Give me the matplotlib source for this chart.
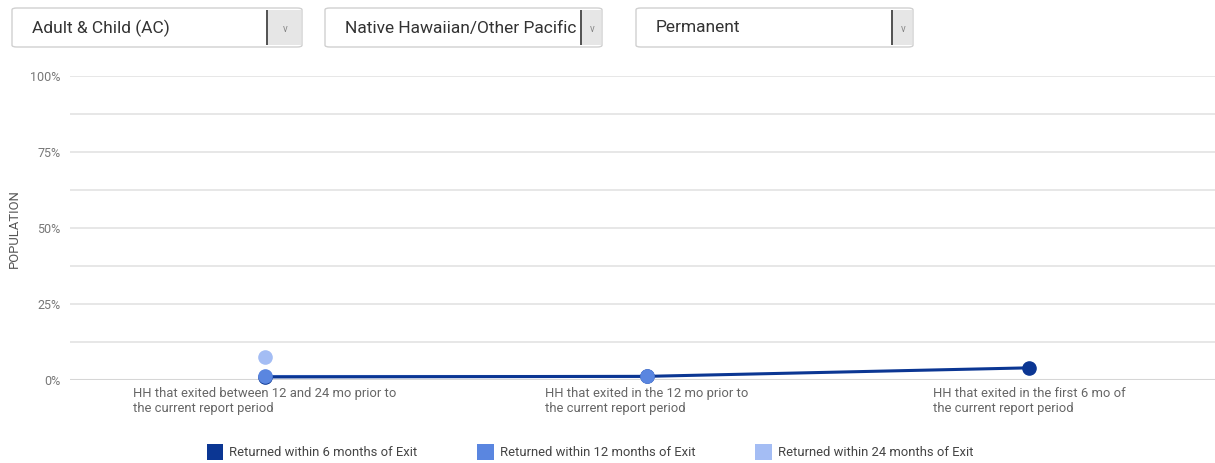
import numpy as np
import matplotlib.pyplot as plt
from matplotlib.patches import FancyBboxPatch, Rectangle, Patch

# data (percent of population)
categories = ["HH that exited between 12 and 24 mo prior to\nthe current report period",
              "HH that exited in the 12 mo prior to\nthe current report period",
              "HH that exited in the first 6 mo of\nthe current report period"]
returned_6mo = [1.0, 1.2, 4.0]
returned_12mo = [1.3, 1.3, np.nan]
returned_24mo = [7.7, np.nan, np.nan]
series_names = ["Returned within 6 months of Exit",
                "Returned within 12 months of Exit",
                "Returned within 24 months of Exit"]
colors = ["#0b3693", "#5a86e0", "#a4bdf4"]
dropdowns = ["Adult & Child (AC)", "Native Hawaiian/Other Pacific", "Permanent"]

plt.rcParams['font.family'] = ['Roboto', 'DejaVu Sans']

W, H = 1215, 463
fig = plt.figure(figsize=(W / 100, H / 100), dpi=100)

# chart area
ax = fig.add_axes([70 / W, (H - 380) / H, (W - 70) / W, (380 - 76) / H])
x = np.arange(len(categories))
all_series = [returned_6mo, returned_12mo, returned_24mo]
# lines: dark one on top, markers: lighter ones on top
for i, (vals, col) in enumerate(zip(all_series, colors)):
    ax.plot(x, vals, color=col, lw=2.2, clip_on=False, zorder=5 - i)
    ax.plot(x, vals, color=col, lw=0, marker='o', markersize=9.5,
            clip_on=False, zorder=6 + i)

ax.set_xlim(-0.51, 2.487)
ax.set_ylim(0, 100)
ax.set_yticks([0, 25, 50, 75, 100])
ax.set_yticks([12.5, 37.5, 62.5, 87.5], minor=True)
ax.set_yticklabels(["0%", "25%", "50%", "75%", "100%"])
ax.grid(axis='y', which='both', color='#e3e3e3', lw=1.2)
ax.set_axisbelow(True)
ax.tick_params(axis='y', which='both', length=0, labelsize=9, labelcolor='#777777', pad=7)
ax.set_xticks(x)
ax.set_xticklabels(categories, fontsize=9.4, color='#666666', multialignment='left',
                   linespacing=1.25)
ax.tick_params(axis='x', length=0, pad=5)
for s in ax.spines.values():
    s.set_visible(False)
ax.axhline(0, color='#d6d6d6', lw=1.5, zorder=1)
fig.text(14 / W, 1 - 229 / H, "POPULATION", rotation=90, fontsize=9.4,
         color='#555555', ha='center', va='center')

# legend
handles = [Patch(facecolor=c, edgecolor='none') for c in colors]
fig.legend(handles, series_names, loc='center', ncol=3, frameon=False,
           bbox_to_anchor=(590 / W, 1 - 452 / H), fontsize=9.4,
           handlelength=1.25, handleheight=1.5, handletextpad=0.45,
           columnspacing=4.6, labelcolor='#444444')

# dropdown boxes at the top
boxes = [(12, 302), (325, 602), (636, 913)]
for (x0, x1), label in zip(boxes, dropdowns):
    y0, y1 = 8, 47
    box = FancyBboxPatch((x0 / W, 1 - y1 / H), (x1 - x0) / W, (y1 - y0) / H,
                         boxstyle="round,pad=0,rounding_size=0.004",
                         transform=fig.transFigure, facecolor='white',
                         edgecolor='#d0d0d0', lw=1)
    fig.patches.append(box)
    bx0 = x1 - 22 if x1 - x0 < 285 else x1 - 36
    t = fig.text((x0 + 20) / W, 1 - 28 / H, label, fontsize=12.5, color='#333333',
                 ha='left', va='center')
    t.set_clip_path(Rectangle((x0 / W, 1 - y1 / H), (bx0 - x0) / W, (y1 - y0) / H,
                              transform=fig.transFigure))
    fig.patches.append(Rectangle((bx0 / W, 1 - 45 / H), (x1 - 1 - bx0) / W, 35 / H,
                                 transform=fig.transFigure, facecolor='#e6e6e6',
                                 edgecolor='none'))
    fig.patches.append(Rectangle((bx0 / W, 1 - 45 / H), 2 / W, 35 / H,
                                 transform=fig.transFigure, facecolor='#555555',
                                 edgecolor='none'))
    fig.text(((bx0 + x1) / 2 + 1) / W, 1 - 29 / H, "v", fontsize=7, color='#888888',
             ha='center', va='center')

fig.savefig("out.png", dpi=100, facecolor='white')
